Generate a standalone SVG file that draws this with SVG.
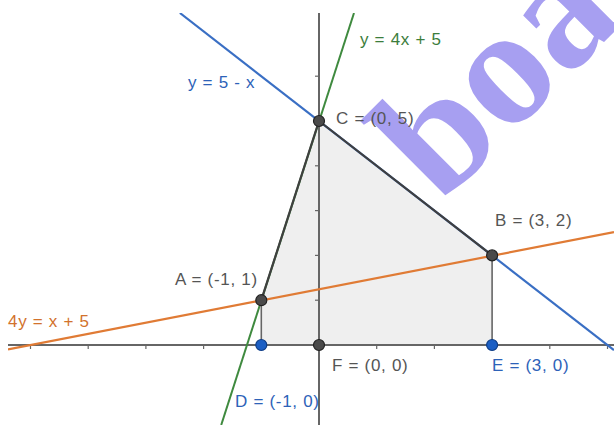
<svg xmlns="http://www.w3.org/2000/svg" width="614" height="425" viewBox="0 0 614 425">
  <defs>
    <style>
      text { font-family: "Liberation Sans", Arial, sans-serif; font-size: 17px; letter-spacing: 0.7px; }
      .lbl { fill: #555555; }
      .lblBlue { fill: #2d62b8; }
      .lblGreen { fill: #3c7d3c; }
      .lblOrange { fill: #d2722c; }
      .axis { stroke: #666666; stroke-width: 2; fill: none; }
      .tick { stroke: #666666; stroke-width: 1.2; }
      .edge { stroke: #3f3f3f; stroke-width: 2.2; fill: none; }
      .vseg { stroke: #666666; stroke-width: 1.6; fill: none; }
      .pt { fill: #4a4a4a; stroke: #222222; stroke-width: 1.2; }
      .ptBlue { fill: #1c5fc4; stroke: #0f3d85; stroke-width: 1.2; }
      .wm { font-family: "Liberation Serif", "Times New Roman", serif; font-weight: bold; font-size: 168px; fill: #a79ff1; letter-spacing: 0; }
    </style>
    <clipPath id="plot"><rect x="8" y="13" width="606" height="412"/></clipPath>
  </defs>
  <rect x="0" y="0" width="614" height="425" fill="#ffffff"/>

  <g id="region">
    <polygon points="261.3,300.2 319,121 492.1,255.4 492.1,345 261.3,345" fill="#efefef"/>
  </g>

  <g id="axes">
    <line class="axis" x1="8" y1="345" x2="614" y2="345"/>
    <line class="axis" x1="319" y1="13" x2="319" y2="425"/>
    <g class="ticks">
      <line class="tick" x1="30.5" y1="345" x2="30.5" y2="349"/>
      <line class="tick" x1="88.2" y1="345" x2="88.2" y2="349"/>
      <line class="tick" x1="145.9" y1="345" x2="145.9" y2="349"/>
      <line class="tick" x1="203.6" y1="345" x2="203.6" y2="349"/>
      <line class="tick" x1="261.3" y1="345" x2="261.3" y2="349"/>
      <line class="tick" x1="376.7" y1="345" x2="376.7" y2="349"/>
      <line class="tick" x1="434.4" y1="345" x2="434.4" y2="349"/>
      <line class="tick" x1="492.1" y1="345" x2="492.1" y2="349"/>
      <line class="tick" x1="549.8" y1="345" x2="549.8" y2="349"/>
      <line class="tick" x1="607.5" y1="345" x2="607.5" y2="349"/>
      <line class="tick" x1="315" y1="300.2" x2="319" y2="300.2"/>
      <line class="tick" x1="315" y1="255.4" x2="319" y2="255.4"/>
      <line class="tick" x1="315" y1="210.6" x2="319" y2="210.6"/>
      <line class="tick" x1="315" y1="165.8" x2="319" y2="165.8"/>
      <line class="tick" x1="315" y1="76.2" x2="319" y2="76.2"/>
    </g>
  </g>

  <g id="connectors" clip-path="url(#plot)">
    <line id="line-blue" x1="179.9" y1="13" x2="614" y2="350.1" stroke="#3a6fc4" stroke-width="2.2"/>
    <line id="line-green" x1="354" y1="13" x2="221.2" y2="425" stroke="#3f8a3f" stroke-width="2"/>
    <line id="line-orange" x1="8" y1="349.4" x2="614" y2="232.2" stroke="#e07b35" stroke-width="2.2"/>
    <line id="edge-AC" class="edge" x1="261.3" y1="300.2" x2="319" y2="121"/>
    <line id="edge-CB" class="edge" x1="319" y1="121" x2="492.1" y2="255.4"/>
    <line id="edge-AD" class="vseg" x1="261.3" y1="300.2" x2="261.3" y2="345"/>
    <line id="edge-BE" class="vseg" x1="492.1" y1="255.4" x2="492.1" y2="345"/>
  </g>

  <g id="watermark">
    <text class="wm" x="0" y="0" transform="translate(441,205) rotate(-45)">boa</text>
  </g>

  <g id="line-labels">
    <text class="lblBlue" x="188" y="88">y = 5 - x</text>
    <text class="lblGreen" x="360" y="45">y = 4x + 5</text>
    <text class="lblOrange" x="8" y="327">4y = x + 5</text>
  </g>

  <g id="node-C">
    <circle class="pt" cx="319" cy="121" r="5.5"/>
    <text class="lbl" x="336" y="124">C = (0, 5)</text>
  </g>
  <g id="node-B">
    <circle class="pt" cx="492.1" cy="255.4" r="5.5"/>
    <text class="lbl" x="495" y="226">B = (3, 2)</text>
  </g>
  <g id="node-A">
    <circle class="pt" cx="261.3" cy="300.2" r="5.5"/>
    <text class="lbl" x="175" y="285">A = (-1, 1)</text>
  </g>
  <g id="node-F">
    <circle class="pt" cx="319" cy="345" r="5.5"/>
    <text class="lbl" x="332" y="371">F = (0, 0)</text>
  </g>
  <g id="node-D">
    <circle class="ptBlue" cx="261.3" cy="345" r="5.5"/>
    <text class="lblBlue" x="235" y="407">D = (-1, 0)</text>
  </g>
  <g id="node-E">
    <circle class="ptBlue" cx="492.1" cy="345" r="5.5"/>
    <text class="lblBlue" x="492" y="371">E = (3, 0)</text>
  </g>
</svg>
